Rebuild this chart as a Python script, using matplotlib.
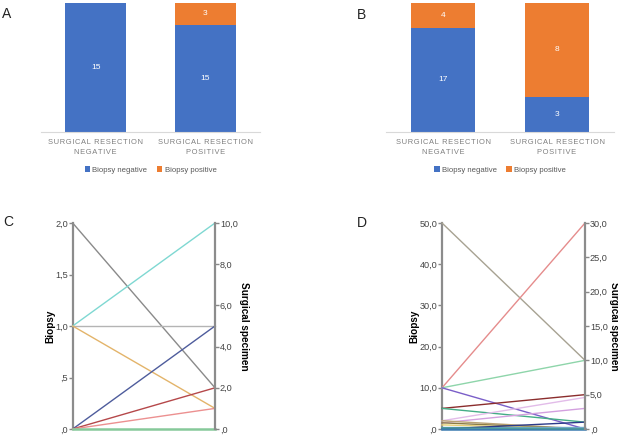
import numpy as np
import matplotlib
matplotlib.use('Agg')
from matplotlib import pyplot as plt

# counts per surgical resection group (panels A and B)
groups = ['SURGICAL RESECTION\nNEGATIVE', 'SURGICAL RESECTION\nPOSITIVE']
a_neg = [15, 15]
a_pos = [0, 3]
b_neg = [17, 3]
b_pos = [4, 8]

# panel C: biopsy value -> surgical specimen value
c_biopsy = [2.0, 1.0, 1.0, 1.0, 0.0, 0.0, 0.0, 0.0]
c_surgical = [2.0, 10.0, 5.0, 1.0, 5.0, 2.0, 1.0, 0.0]
c_colors = ['#8a8a8a', '#7fd8d2', '#b4b4b4', '#e3b46a', '#4e5c9c', '#b5484a', '#ec9090', '#86c99a']

# panel D: biopsy value -> surgical specimen value
d_biopsy = [50, 10, 10, 10, 5, 5, 2, 1.5, 2, 1.5, 1, 0.5, 0, 0, 0.3]
d_surgical = [10, 30, 10, 0, 5, 1, 4.6, 3, 0, 0, 0, 0.3, 1, 0, 0]
d_colors = ['#a7a292', '#e58c8c', '#8ed5aa', '#7a5ec8', '#8b2d2d', '#44ad86', '#e2bce9',
            '#d3a0df', '#b9a273', '#8c7c44', '#e6cf72', '#6fa8c8', '#2b3a8a', '#3a7ab0', '#4a9a9a']

c_left_ticks = [0, 0.5, 1.0, 1.5, 2.0]
c_left_labels = [',0', ',5', '1,0', '1,5', '2,0']
c_right_ticks = [0, 2, 4, 6, 8, 10]
c_right_labels = [',0', '2,0', '4,0', '6,0', '8,0', '10,0']
d_left_ticks = [0, 10, 20, 30, 40, 50]
d_left_labels = [',0', '10,0', '20,0', '30,0', '40,0', '50,0']
d_right_ticks = [0, 5, 10, 15, 20, 25, 30]
d_right_labels = [',0', '5,0', '10,0', '15,0', '20,0', '25,0', '30,0']

blue = '#4472c4'
orange = '#ed7d31'
plt.rcParams['font.family'] = ['Liberation Sans', 'DejaVu Sans']

fig = plt.figure(figsize=(6.18, 4.37), dpi=100)
W, H = 618, 437


def px_axes(x0, y0, x1, y1):
    return fig.add_axes([x0 / W, 1 - y1 / H, (x1 - x0) / W, (y1 - y0) / H])


def spaced(s):
    return '\n'.join('\u200a'.join(line) for line in s.split('\n'))


def bar_panel(ax, neg, pos):
    neg = np.array(neg, float)
    pos = np.array(pos, float)
    tot = neg + pos
    x = np.arange(len(neg))
    b1 = ax.bar(x, neg / tot, width=0.56, color=blue, label='Biopsy negative')
    b2 = ax.bar(x, pos / tot, bottom=neg / tot, width=0.56, color=orange, label='Biopsy positive')
    ax.bar_label(b1, labels=[str(int(v)) if v else '' for v in neg], label_type='center',
                 color='white', fontsize=6)
    ax.bar_label(b2, labels=[str(int(v)) if v else '' for v in pos], label_type='center',
                 color='white', fontsize=6)
    ax.set_xlim(-0.5, 1.5)
    ax.set_ylim(0, 1)
    ax.set_xticks(x)
    ax.set_xticklabels([spaced(g) for g in groups], fontsize=5.4, color='#7f7f7f', linespacing=1.55)
    ax.tick_params(axis='x', length=0, pad=5)
    ax.set_yticks([])
    for s in ['top', 'left', 'right']:
        ax.spines[s].set_visible(False)
    ax.spines['bottom'].set_color('#d9d9d9')
    ax.legend(loc='center', bbox_to_anchor=(0.5, -0.295), ncol=2, frameon=False,
              fontsize=5.6, handlelength=0.7, handleheight=0.7, handletextpad=0.3,
              columnspacing=1.2, labelcolor='#595959')


def line_panel(ax, biopsy, surgical, colors, lt, ll, rt, rl):
    lmax = lt[-1]
    rmax = rt[-1]
    ax2 = ax.twinx()
    for b, s, c in zip(biopsy, surgical, colors):
        lw = 1.8 if (b == 0 and s == 0) else 1.0
        ax.plot([0, 1], [b, s * lmax / rmax], color=c, lw=lw, clip_on=False, zorder=3)
    ax.set_xlim(0, 1)
    ax.set_ylim(0, lmax)
    ax2.set_ylim(0, rmax)
    ax.set_xticks([])
    ax.set_yticks(lt)
    ax.set_yticklabels(ll)
    ax2.set_yticks(rt)
    ax2.set_yticklabels(rl)
    for a in (ax, ax2):
        for s in ['top', 'bottom']:
            a.spines[s].set_visible(False)
        a.tick_params(axis='y', length=3, width=1, color='#888888', labelsize=6.6,
                      labelcolor='#444444', pad=0.5)
    ax.spines['right'].set_visible(False)
    ax2.spines['left'].set_visible(False)
    ax.spines['left'].set_color('#8c8c8c')
    ax.spines['left'].set_linewidth(1.6)
    ax2.spines['right'].set_color('#8c8c8c')
    ax2.spines['right'].set_linewidth(1.6)
    ax.set_ylabel('Biopsy', fontsize=7.2, fontweight='bold', labelpad=0)
    ax2.set_ylabel('Surgical specimen', fontsize=7.2, fontweight='bold', rotation=-90, labelpad=8)


ax_a = px_axes(41, 3, 260, 132)
bar_panel(ax_a, a_neg, a_pos)
ax_b = px_axes(386, 3, 614, 132)
bar_panel(ax_b, b_neg, b_pos)

ax_c = px_axes(72.7, 223, 215, 429)
line_panel(ax_c, c_biopsy, c_surgical, c_colors, c_left_ticks, c_left_labels, c_right_ticks, c_right_labels)
ax_d = px_axes(442, 223, 585, 429)
line_panel(ax_d, d_biopsy, d_surgical, d_colors, d_left_ticks, d_left_labels, d_right_ticks, d_right_labels)

for lab, x, y in [('A', 2, 14), ('B', 357, 15), ('C', 3, 222), ('D', 357, 223)]:
    fig.text(x / W, 1 - y / H, lab, fontsize=10, va='center', ha='left', color='#222222')

fig.savefig('out.png', dpi=100)
